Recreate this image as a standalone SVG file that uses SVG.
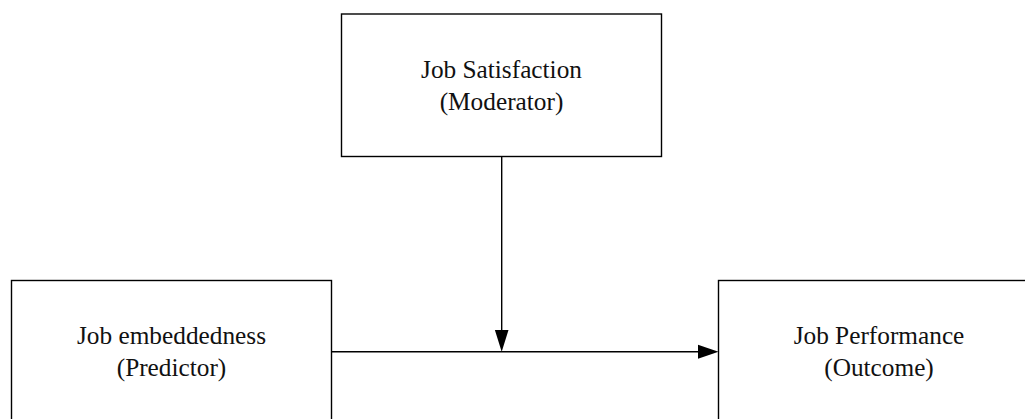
<svg xmlns="http://www.w3.org/2000/svg" width="1025" height="419" viewBox="0 0 1025 419">
  <style>
    .box { fill: #ffffff; stroke: #000000; stroke-width: 1.4; }
    .label { font-family: "Liberation Serif", "Times New Roman", serif; font-size: 25.3px; fill: #111111; text-anchor: middle; }
    .link { fill: none; stroke: #000000; stroke-width: 1.4; }
    .head { fill: #000000; stroke: none; }
  </style>
  <rect width="1025" height="419" fill="#ffffff"/>

  <!-- moderator -->
  <g id="job-satisfaction">
    <rect class="box" x="341.5" y="14" width="320" height="142.5"/>
    <text class="label" x="501.5" y="78">Job Satisfaction</text>
    <text class="label" x="501.5" y="110">(Moderator)</text>
  </g>

  <!-- predictor -->
  <g id="job-embeddedness">
    <rect class="box" x="11.5" y="280.5" width="320" height="160"/>
    <text class="label" x="171.5" y="344">Job embeddedness</text>
    <text class="label" x="171.5" y="376">(Predictor)</text>
  </g>

  <!-- outcome -->
  <g id="job-performance">
    <rect class="box" x="718.5" y="280.5" width="340" height="160"/>
    <text class="label" x="879" y="344">Job Performance</text>
    <text class="label" x="879" y="376">(Outcome)</text>
  </g>

  <!-- connectors -->
  <g id="connectors">
    <line class="link" x1="331.5" y1="351.7" x2="700" y2="351.7"/>
    <polygon class="head" points="718.5,351.7 698,344.7 698,358.7"/>
    <line class="link" x1="501.7" y1="156.5" x2="501.7" y2="332"/>
    <polygon class="head" points="501.7,351.7 494.9,330 508.5,330"/>
  </g>
</svg>
